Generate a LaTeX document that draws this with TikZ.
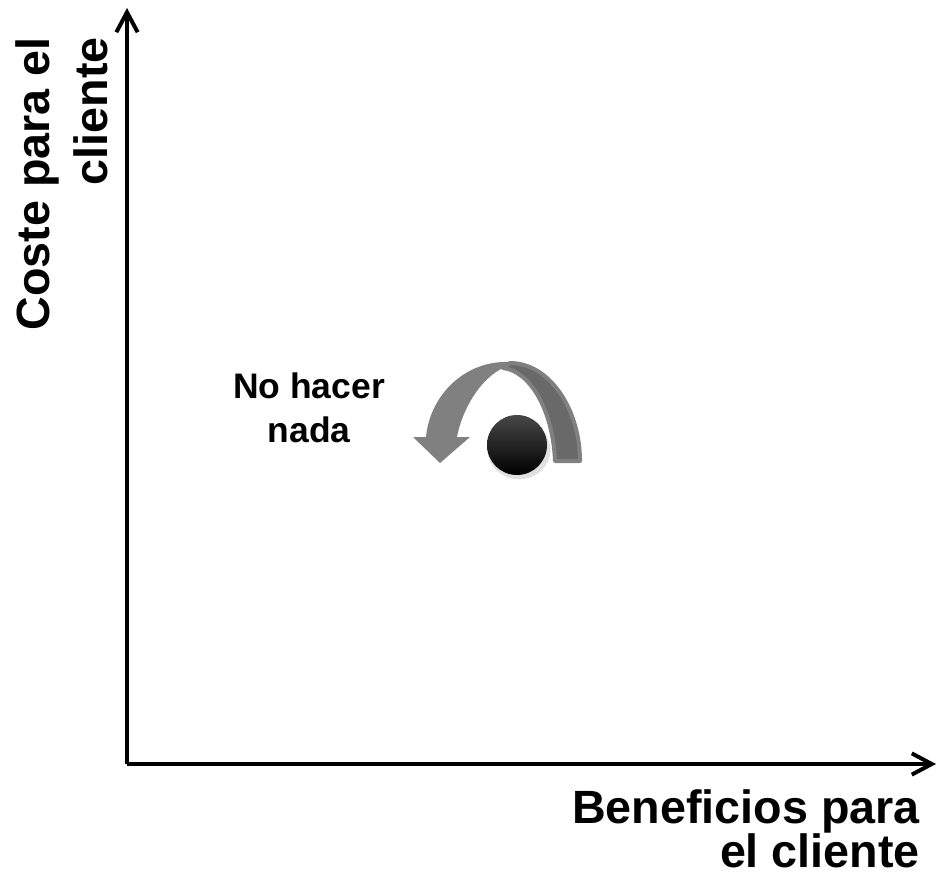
\documentclass[tikz,border=0pt]{standalone}
\usepackage{fontspec}
\setmainfont{Liberation Sans}
\usetikzlibrary{arrows.meta}
\definecolor{flecha}{gray}{0.5}
\definecolor{flechaosc}{gray}{0.41}

\begin{document}
\begin{tikzpicture}[x=0.75pt, y=0.75pt,
  >={Straight Barb[length=15pt, width=16pt]},
  etiqueta/.style={inner sep=0pt, font={\fontsize{35}{31.5}\selectfont\bfseries}},
  bola/.style={circle, inner sep=0pt, minimum size=45pt, top color=black!72, middle color=black!97, bottom color=black}]
\useasboundingbox (0,0) rectangle (939,-885);
% Ejes
\coordinate (O) at (127,-764);
\coordinate (ytop) at (127,-8);
\coordinate (xend) at (936,-764);
\draw[->, line width=3pt] (O) -- (ytop); % Eje coste
\draw[->, line width=3pt] (O) -- (xend); % Eje beneficios
% Etiquetas de los ejes
\node[etiqueta, anchor=north east, align=right] (beneficios) at (920,-789) {Beneficios para\\el cliente};
\node[etiqueta, rotate=90, anchor=north east, align=right, font={\fontsize{35}{43.5}\selectfont\bfseries}] (coste) at (15,-37) {Coste para el\\cliente};
% Flecha circular (parte trasera)
\filldraw[fill=flechaosc, draw=flecha, line width=3pt, line join=round] (510,-363) .. controls (550,-363) and (580,-410) .. (580,-461) -- (555,-461) .. controls (553,-410) and (530,-371) .. (503,-368) -- cycle;
% Flecha circular (parte delantera)
\fill[flecha] (413,-437) -- (440,-463) -- (470,-437) -- (457,-437) .. controls (462,-410) and (480,-378) .. (505,-367) -- (510,-362) .. controls (465,-360) and (430,-395) .. (426,-437) -- cycle;
% Bola
\fill[black, opacity=0.12] (519,-450) ellipse (23.5pt and 22pt);
\node[bola] (bola) at (517,-445) {};
% Texto
\node[anchor=north, align=center, inner sep=0pt, font={\fontsize{26.6}{33}\selectfont\bfseries}] (nada) at (309,-373) {No hacer\\nada};
\end{tikzpicture}
\end{document}
